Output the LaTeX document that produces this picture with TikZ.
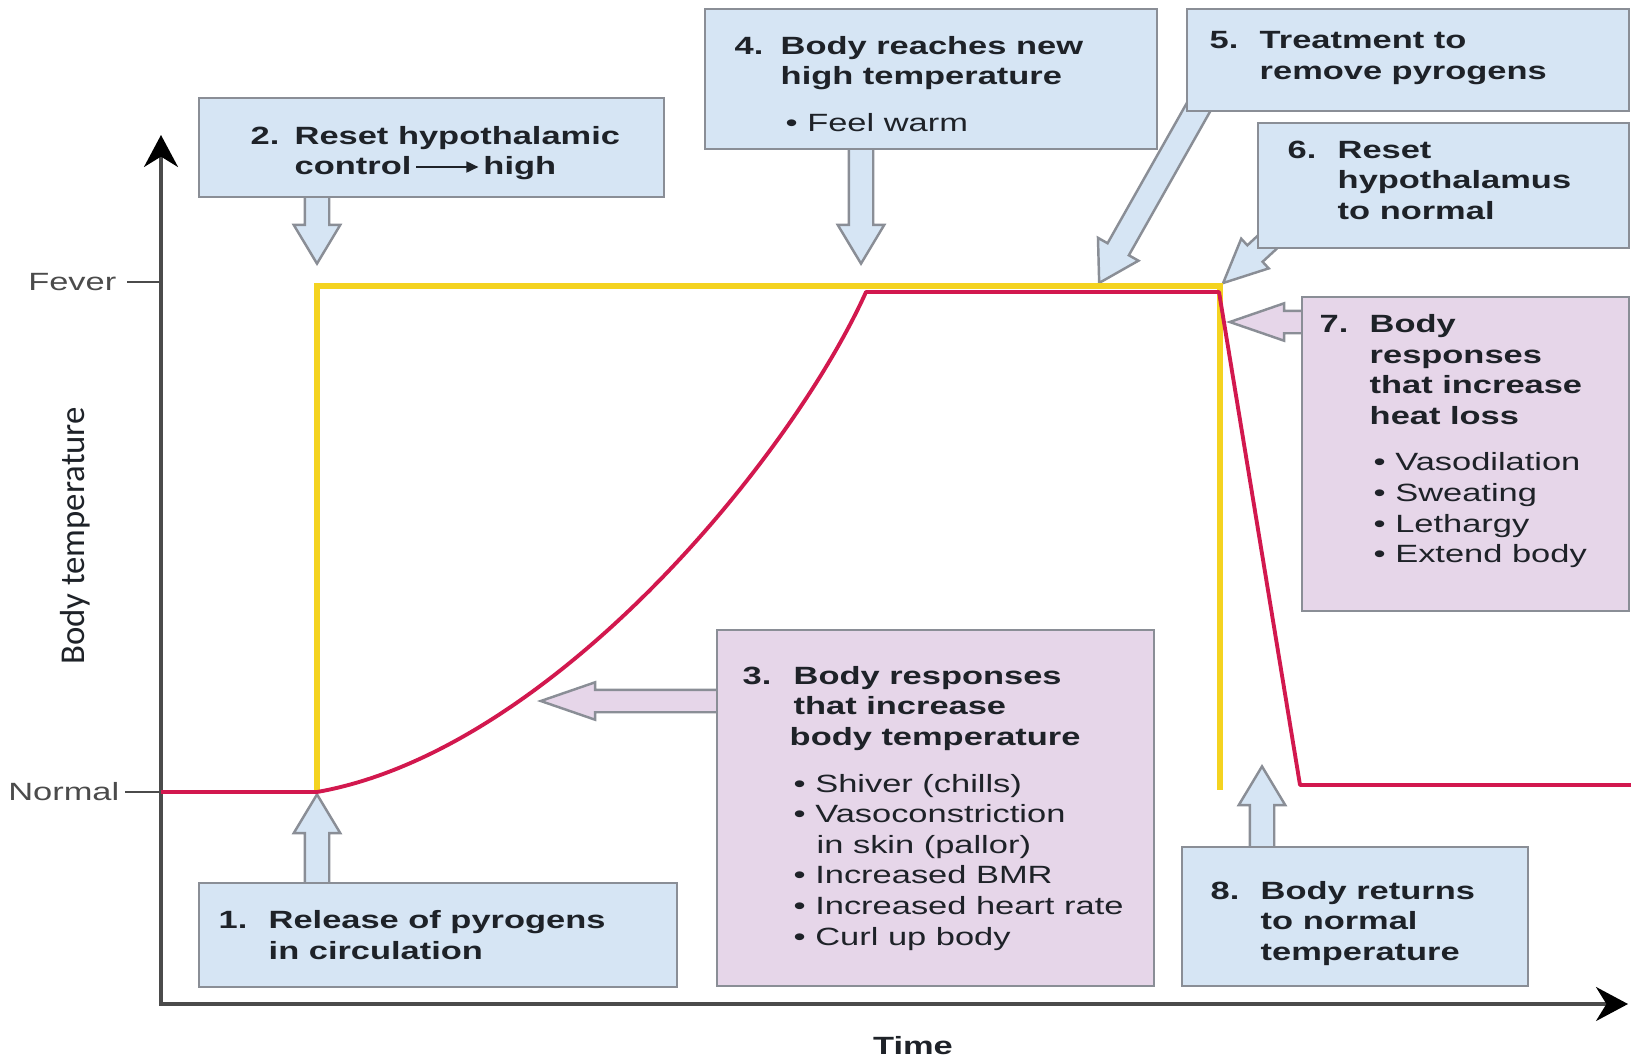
\documentclass[tikz,border=0pt]{standalone}
\usepackage{fontspec}
\setmainfont[FakeStretch=1.38]{Liberation Sans}
\newfontfamily\axisfont{Carlito}
\usetikzlibrary{arrows.meta,calc,positioning,shapes.arrows}
\definecolor{NoteInk}{HTML}{1E2228}
\definecolor{FrameGray}{HTML}{8A8E96}
\definecolor{CoolBlue}{HTML}{D6E5F4}
\definecolor{WarmPink}{HTML}{E6D6E9}
\definecolor{SetYellow}{HTML}{F4D320}
\definecolor{TempRed}{HTML}{D2184E}
\definecolor{AxisGray}{HTML}{4B4B4B}
\pgfdeclarelayer{behind}
\pgfsetlayers{behind,main}
\newcommand\stagefont{\fontsize{7.1}{8.7}\selectfont\bfseries}
\newcommand\stepno[2][0.50cm]{\makebox[#1][l]{#2}}
\newcommand\hang[1][0.50cm]{\hspace*{#1}}
\newcommand\point[1]{{\mdseries\textbullet\ #1}}
\tikzset{
  every node/.style={text=NoteInk},
  stagebox/.style={draw=FrameGray, line width=0.7pt, anchor=north west, inner sep=0pt},
  cool/.style={stagebox, fill=CoolBlue},
  warm/.style={stagebox, fill=WarmPink},
  stagetext/.style={inner sep=0pt, align=left, font=\stagefont},
  pointer/.style={single arrow, draw=FrameGray, line width=0.7pt, inner xsep=0pt,
        inner ysep=0.11cm, single arrow head extend=0.11cm, single arrow tip angle=62,
        sloped, allow upside down, pos=1, anchor=tip},
  slim/.style={inner ysep=0.10cm, single arrow head extend=0.075cm, single arrow tip angle=38},
  setpoint/.style={draw=SetYellow, line width=1.5pt},
  bodytemp/.style={draw=TempRed, line width=1.1pt, line join=round},
  axis/.style={draw=AxisGray, line width=0.9pt,
        {Stealth[length=3.2mm,width=3.4mm,color=black]}-{Stealth[length=3.2mm,width=3.4mm,color=black]}},
  tick/.style={draw=AxisGray, line width=0.6pt},
  ticklabel/.style={inner sep=0pt, font=\fontsize{7.1}{8.7}\selectfont, text=AxisGray},
}
% block arrow from a point to a tip
\newcommand\blockarrow[4][]{%
  \path let \p1=($(#4)-(#3)$), \n1={veclen(\x1,\y1)} in
    (#3) -- (#4) node[pointer, minimum height=\n1, #1] (#2) {};}

\begin{document}
\begin{tikzpicture}[x=1cm,y=1cm]
  \useasboundingbox (0,0) rectangle (16.31,10.61);

  % Axes
  \coordinate (origin) at (1.61,0.57);
  \coordinate (ytop) at (1.61,9.26);
  \coordinate (xend) at (16.28,0.57);
  \draw[axis] (ytop) -- (origin) -- (xend);
  \node[ticklabel, anchor=east] (fever) at (1.17,7.79) {Fever};
  \node[ticklabel, anchor=east] (normal) at (1.20,2.69) {Normal};
  \draw[tick] ([xshift=0.10cm]fever.east) -- (fever.east -| origin);
  \draw[tick] ([xshift=0.05cm]normal.east) -- (normal.east -| origin);
  \node[font=\fontsize{7.1}{8.7}\selectfont\bfseries] (time) at (9.13,0.15) {Time};
  \node[font=\axisfont\fontsize{9.9}{11}\selectfont, rotate=90] (ylabel) at (0.75,5.25) {Body temperature};

  % Points the arrows point at
  \coordinate (onset) at (3.17,2.69);
  \coordinate (reset) at (3.17,7.95);
  \coordinate (rise) at (5.37,3.60);
  \coordinate (plateau) at (8.61,7.95);
  \coordinate (treat) at (10.98,7.76);
  \coordinate (normalset) at (12.21,7.76);
  \coordinate (cooling) at (12.26,7.39);
  \coordinate (recovered) at (12.62,2.97);

  % Set point and body temperature
  \draw[setpoint] (onset) -- (3.17,7.75) -- (12.20,7.75) -- (12.20,2.71);
  \draw[bodytemp] (origin |- onset) -- (onset)
        .. controls (5.50,3.10) and (7.90,6.01) .. (8.66,7.69)
        -- (12.19,7.69) -- (13.00,2.76) -- (16.31,2.76);

  % Stage boxes
  \node[cool, minimum width=4.78cm, minimum height=1.04cm] (box1) at (1.98,1.79) {};
  \node[cool, minimum width=4.65cm, minimum height=0.99cm] (box2) at (1.98,9.64) {};
  \node[warm, minimum width=4.37cm, minimum height=3.56cm] (box3) at (7.16,4.32) {};
  \node[cool, minimum width=4.52cm, minimum height=1.40cm] (box4) at (7.04,10.53) {};
  \node[cool, minimum width=4.42cm, minimum height=1.02cm] (box5) at (11.86,10.53) {};
  \node[cool, minimum width=3.71cm, minimum height=1.25cm] (box6) at (12.57,9.39) {};
  \node[warm, minimum width=3.27cm, minimum height=3.14cm] (box7) at (13.01,7.65) {};
  \node[cool, minimum width=3.46cm, minimum height=1.39cm] (box8) at (11.81,2.15) {};

  % Stage texts
  \node[stagetext, right=0.20cm of box1.west] (note1)
        {\stepno{1.}Release of pyrogens\\\hang in circulation};
  \node[stagetext, right=0.52cm of box2.west, yshift=-0.055cm] (note2)
        {\stepno[0.44cm]{2.}Reset hypothalamic\\\hang[0.44cm]control\,\tikz[baseline=-0.6ex]\draw[line width=0.5pt,
        -{Triangle[length=1.2mm,width=1.1mm]}] (0,0) -- (0.62,0);\,high};
  \node[stagetext, right=0.26cm of box3.west] (note3)
        {\stepno[0.51cm]{3.}Body responses\\\hang[0.51cm]that increase\\\hang[0.47cm]body temperature\\[0.16cm]
        \hang[0.51cm]\point{Shiver (chills)}\\\hang[0.51cm]\point{Vasoconstriction}\\
        \hang[0.74cm]{\mdseries in skin (pallor)}\\\hang[0.51cm]\point{Increased BMR}\\
        \hang[0.51cm]\point{Increased heart rate}\\\hang[0.51cm]\point{Curl up body}};
  \node[stagetext, right=0.30cm of box4.west, yshift=-0.045cm] (note4)
        {\stepno[0.46cm]{4.}Body reaches new\\\hang[0.46cm]high temperature\\[0.16cm]\hang[0.51cm]\point{Feel warm}};
  \node[stagetext, right=0.23cm of box5.west, yshift=0.02cm] (note5)
        {\stepno{5.}Treatment to\\\hang remove pyrogens};
  \node[stagetext, right=0.30cm of box6.west, yshift=0.055cm] (note6)
        {\stepno{6.}Reset\\\hang hypothalamus\\\hang to normal};
  \node[stagetext, right=0.18cm of box7.west, yshift=0.13cm] (note7)
        {\stepno{7.}Body\\\hang responses\\\hang that increase\\\hang heat loss\\[0.16cm]
        \hang[0.54cm]\point{Vasodilation}\\\hang[0.54cm]\point{Sweating}\\
        \hang[0.54cm]\point{Lethargy}\\\hang[0.54cm]\point{Extend body}};
  \node[stagetext, right=0.29cm of box8.west, yshift=-0.065cm] (note8)
        {\stepno{8.}Body returns\\\hang to normal\\\hang temperature};

  % Block arrows, behind the boxes
  \begin{pgfonlayer}{behind}
    \blockarrow[fill=CoolBlue]{a1}{$(onset |- box1.north)+(0,-0.1)$}{onset}
    \blockarrow[fill=CoolBlue]{a2}{$(reset |- box2.south)+(0,0.1)$}{reset}
    \blockarrow[fill=WarmPink, slim]{a3}{$(box3.west |- rise)+(0.1,0)$}{rise}
    \blockarrow[fill=CoolBlue]{a4}{$(plateau |- box4.south)+(0,0.1)$}{plateau}
    \blockarrow[fill=CoolBlue]{a5}{$(box5.south west)+(0.18,0.15)$}{treat}
    \blockarrow[fill=CoolBlue, inner ysep=0.10cm, single arrow head extend=0.09cm,
                single arrow tip angle=50]{a6}{$(box6.south west)+(0.11,0.08)$}{normalset}
    \blockarrow[fill=WarmPink, slim]{a7}{$(box7.west |- cooling)+(0.1,0)$}{cooling}
    \blockarrow[fill=CoolBlue]{a8}{$(recovered |- box8.north)+(0,-0.1)$}{recovered}
  \end{pgfonlayer}
\end{tikzpicture}
\end{document}
